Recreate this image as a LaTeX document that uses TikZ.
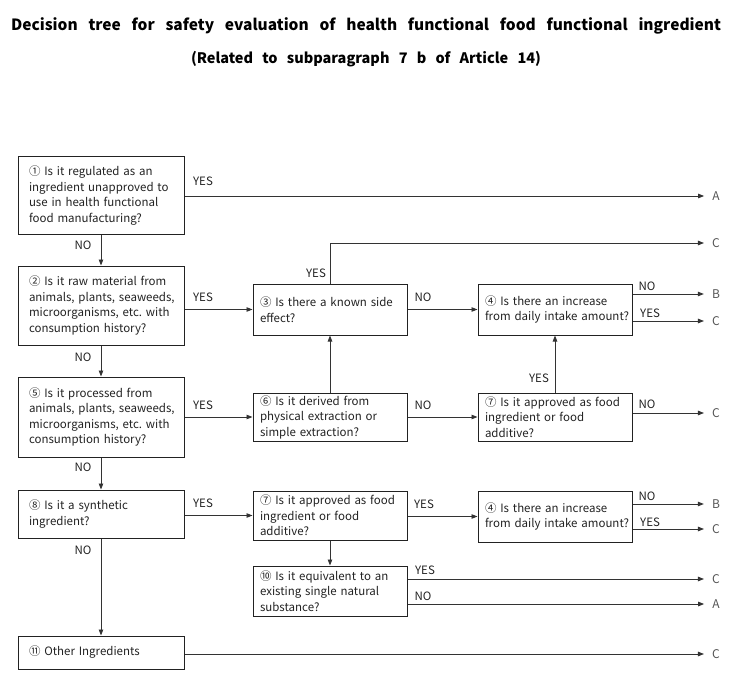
\documentclass[tikz,border=0pt]{standalone}
\usepackage{fontspec}
\setmainfont{Noto Sans CJK KR}
\usetikzlibrary{arrows.meta}
\definecolor{ln}{HTML}{333333}
\definecolor{tx}{HTML}{222222}
\definecolor{lt}{HTML}{555555}
\newcommand\Ln[1]{\mbox{#1}}
\frenchspacing
\begin{document}
\begin{tikzpicture}[x=1pt,y=-1pt,
  box/.style={draw=tx, line width=1pt, align=left, inner ysep=2pt,
    font=\fontsize{11.5}{15.5}\selectfont\frenchspacing, text=tx},
  lbox/.style={box, inner xsep=11pt, text width=144pt},
  sbox/.style={box, inner xsep=7pt, text width=140pt},
  lab/.style={font=\fontsize{11.5}{13}\selectfont, text=tx, inner sep=0pt},
  endl/.style={font=\fontsize{12}{13}\selectfont, text=lt, inner sep=0pt},
  conn/.style={draw=ln, line width=0.9pt},
  arr/.style={conn, -{Triangle[length=6pt,width=4.5pt]}},
  tarr/.style={arr, shorten >=8pt}
]
\useasboundingbox (0,0) rectangle (743,695);
\node[font=\bfseries\fontsize{15.5}{18}\selectfont, text=black] (title) at (366,26)
  {\makebox[710pt][s]{Decision tree for safety evaluation of health functional food functional ingredient}};
\node[font=\bfseries\fontsize{14.5}{18}\selectfont, text=black] (sub) at (366,59)
  {\makebox[350pt][s]{(Related to subparagraph 7 b of Article 14)}};

% left column
\node[lbox, minimum height=77pt] (b1) at (101,195.5) {\Ln{① Is it regulated as an}\\\Ln{ingredient unapproved to}\\\Ln{use in health functional}\\\Ln{food manufacturing?}};
\node[lbox, minimum height=79pt] (b2) at (101,305.5) {\Ln{② Is it raw material from}\\\Ln{animals, plants, seaweeds,}\\\Ln{microorganisms, etc. with}\\\Ln{consumption history?}};
\node[lbox, minimum height=80pt] (b5) at (101,417) {\Ln{⑤ Is it processed from}\\\Ln{animals, plants, seaweeds,}\\\Ln{microorganisms, etc. with}\\\Ln{consumption history?}};
\node[lbox, minimum height=48pt] (b8) at (101,514) {\Ln{⑧ Is it a synthetic}\\\Ln{ingredient?}};
\node[lbox, minimum height=33pt] (b11) at (101,652.5) {\Ln{⑪ Other Ingredients}};

% middle column
\node[sbox, minimum height=51pt] (b3) at (330,309.5) {\Ln{③ Is there a known side}\\\Ln{effect?}};
\node[sbox, minimum height=48pt] (b6) at (330,417) {\Ln{⑥ Is it derived from}\\\Ln{physical extraction or}\\\Ln{simple extraction?}};
\node[sbox, minimum height=49pt] (b7b) at (330,515.5) {\Ln{⑦ Is it approved as food}\\\Ln{ingredient or food}\\\Ln{additive?}};
\node[sbox, minimum height=50pt] (b10) at (330,591) {\Ln{⑩ Is it equivalent to an}\\\Ln{existing single natural}\\\Ln{substance?}};

% right column
\node[sbox, minimum height=51pt] (b4) at (555,309.5) {\Ln{④ Is there an increase}\\\Ln{from daily intake amount?}};
\node[sbox, minimum height=48pt] (b7) at (555,417) {\Ln{⑦ Is it approved as food}\\\Ln{ingredient or food}\\\Ln{additive?}};
\node[sbox, minimum height=51pt] (b4b) at (555,516.5) {\Ln{④ Is there an increase}\\\Ln{from daily intake amount?}};

% end letters
\node[endl] (e1) at (716,196) {A};
\node[endl] (e2) at (716,243) {C};
\node[endl] (e3) at (716,294) {B};
\node[endl] (e4) at (716,321) {C};
\node[endl] (e5) at (716,413) {C};
\node[endl] (e6) at (716,504) {B};
\node[endl] (e7) at (716,529) {C};
\node[endl] (e8) at (716,579) {C};
\node[endl] (e9) at (716,604) {A};
\node[endl] (e10) at (716,654) {C};
\coordinate (c3top) at (330,243);

% vertical connectors in left column
\draw[arr] (b1) -- (b2);
\draw[arr] (b2) -- (b5);
\draw[arr] (b5) -- (b8);
\draw[arr] (b8) -- (b11);

% horizontal connectors
\draw[tarr] (b1.east |- e1) -- (e1.west);
\draw[arr] (b2.east |- b3) -- (b3.west);
\draw[arr] (b3) -- (b4);
\draw[conn] (b3.north) -- (c3top);
\draw[tarr] (c3top) -- (e2.west);
\draw[tarr] (b4.east |- e3) -- (e3.west);
\draw[tarr] (b4.east |- e4) -- (e4.west);
\draw[arr] (b5.east |- b6) -- (b6.west);
\draw[arr] (b6) -- (b3);
\draw[arr] (b6) -- (b7);
\draw[arr] (b7) -- (b4);
\draw[tarr] (b7.east |- e5) -- (e5.west);
\draw[arr] (b8.east |- b7b) -- (b7b.west);
\draw[arr] (b7b.east |- b4b) -- (b4b.west);
\draw[tarr] (b4b.east |- e6) -- (e6.west);
\draw[tarr] (b4b.east |- e7) -- (e7.west);
\draw[arr] (b7b) -- (b10);
\draw[tarr] (b10.east |- e8) -- (e8.west);
\draw[tarr] (b10.east |- e9) -- (e9.west);
\draw[tarr] (b11.east |- e10) -- (e10.west);

% labels
\node[lab] (l1) at (203,181) {YES};
\node[lab] (l2) at (83,245) {NO};
\node[lab] (l3) at (203,297) {YES};
\node[lab] (l4) at (83,357) {NO};
\node[lab] (l5) at (203,405) {YES};
\node[lab] (l6) at (83,467) {NO};
\node[lab] (l7) at (203,503) {YES};
\node[lab] (l8) at (83,550) {NO};
\node[lab] (l9) at (316,273) {YES};
\node[lab] (l10) at (423,297) {NO};
\node[lab] (l11) at (647,286) {NO};
\node[lab] (l12) at (650,313) {YES};
\node[lab] (l13) at (539,378) {YES};
\node[lab] (l14) at (423,405) {NO};
\node[lab] (l15) at (647,404) {NO};
\node[lab] (l16) at (424,504) {YES};
\node[lab] (l17) at (647,496) {NO};
\node[lab] (l18) at (650,522) {YES};
\node[lab] (l19) at (425,570) {YES};
\node[lab] (l20) at (423,596) {NO};
\end{tikzpicture}
\end{document}
